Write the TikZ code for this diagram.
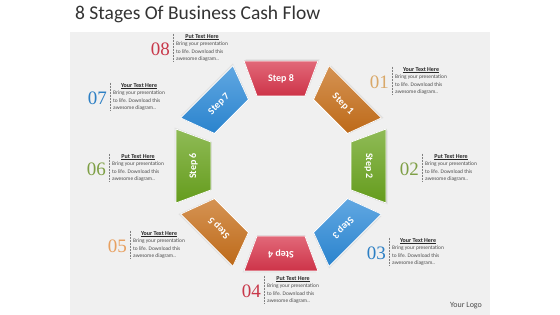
\documentclass[tikz,border=0pt]{standalone}
\usepackage{fontspec}
\setmainfont{Carlito}
\newfontfamily\numfont{Liberation Serif}
\usetikzlibrary{positioning}
\definecolor{panelgray}{HTML}{F0F0F0}
\definecolor{stagered}{HTML}{D8364C}
\definecolor{stageorange}{HTML}{C76F1A}
\definecolor{stagegreen}{HTML}{6AA41E}
\definecolor{stageblue}{HTML}{2C8AD8}
\definecolor{numred}{HTML}{C8384A}
\definecolor{numorange}{HTML}{D9A868}
\definecolor{numorangeb}{HTML}{E8A060}
\definecolor{numgreen}{HTML}{7E9F45}
\definecolor{numblue}{HTML}{2C7FC4}
\tikzset{
  panel/.style={fill=panelgray},
  stepband/.style={draw=white,line width=0.8pt,line join=round},
  stepshadow/.style={fill=black!12},
  steptext/.style={text=white,font=\bfseries\fontsize{10}{12}\selectfont},
  numtext/.style={font=\numfont\fontsize{19}{19}\selectfont,inner sep=0pt,anchor=east},
  headtext/.style={font=\bfseries\fontsize{6}{7}\selectfont,inner sep=0.5pt,text=black!85},
  bodytext/.style={font=\fontsize{5.4}{7.5}\selectfont,align=left,inner sep=0pt,text=black!70},
  dotline/.style={densely dotted,gray,line width=0.5pt},
  titletext/.style={font=\fontsize{19.5}{22}\selectfont,text=black!80,inner sep=0pt},
  logotext/.style={font=\fontsize{8}{9}\selectfont,text=black!70,inner sep=0pt}
}
\begin{document}
\begin{tikzpicture}[x=1pt,y=1pt]
\useasboundingbox (0,0) rectangle (560,315);
\fill[white] (0,0) rectangle (560,315);
\fill[panel] (70,0) rectangle (490,283);

\node[titletext,anchor=west] (title) at (75,301) {8 Stages Of Business Cash Flow};

% octagon bands
\foreach \k/\c in {1/stageorange,2/stagegreen,3/stageblue,4/stagered,
                   5/stageorange,6/stagegreen,7/stageblue,8/stagered}{
  \pgfmathsetmacro\a{90-45*\k}
  \begin{scope}[shift={(281,149)},rotate=\a]
    \fill[stepshadow,shift={(1.5,-1.5)}]
      (70,-24) -- (105,-37) -- (105,37) -- (70,24) -- cycle;
    \filldraw[stepband,top color=\c!75!white,bottom color=\c!95!black]
      (70,-24) -- (105,-37) -- (105,37) -- (70,24) -- cycle;
    \node[steptext,rotate=\a-90] (step\k) at (87.5,0) {Step \k};
  \end{scope}
}

% text blocks
\foreach \i/\x/\y/\c/\h in {1/395/240/numorange/Your,2/425/153/numgreen/Put,
                            3/392/69/numblue/Your,4/267/31/numred/Put,
                            5/133/76/numorangeb/Your,6/112/153/numgreen/Put,
                            7/113/224/numblue/Your,8/176/273/numred/Put}{
  \node[bodytext,anchor=north west] (body\i) at (\x,\y)
    {Bring your presentation\\to life. Download this\\awesome diagram..};
  \node[headtext,above=1pt of body\i] (head\i) {\underline{\h\ Text Here}};
  \node[numtext,text=\c] (num\i) at ([xshift=-6pt,yshift=-7pt]body\i.north west) {0\i};
  \coordinate (top\i) at (head\i.north -| body\i.west);
  \draw[dotline] ([xshift=-3pt]top\i) -- ([xshift=-3pt]body\i.south west);
}

\node[logotext] (logo) at (466,9) {Your Logo};
\end{tikzpicture}
\end{document}
